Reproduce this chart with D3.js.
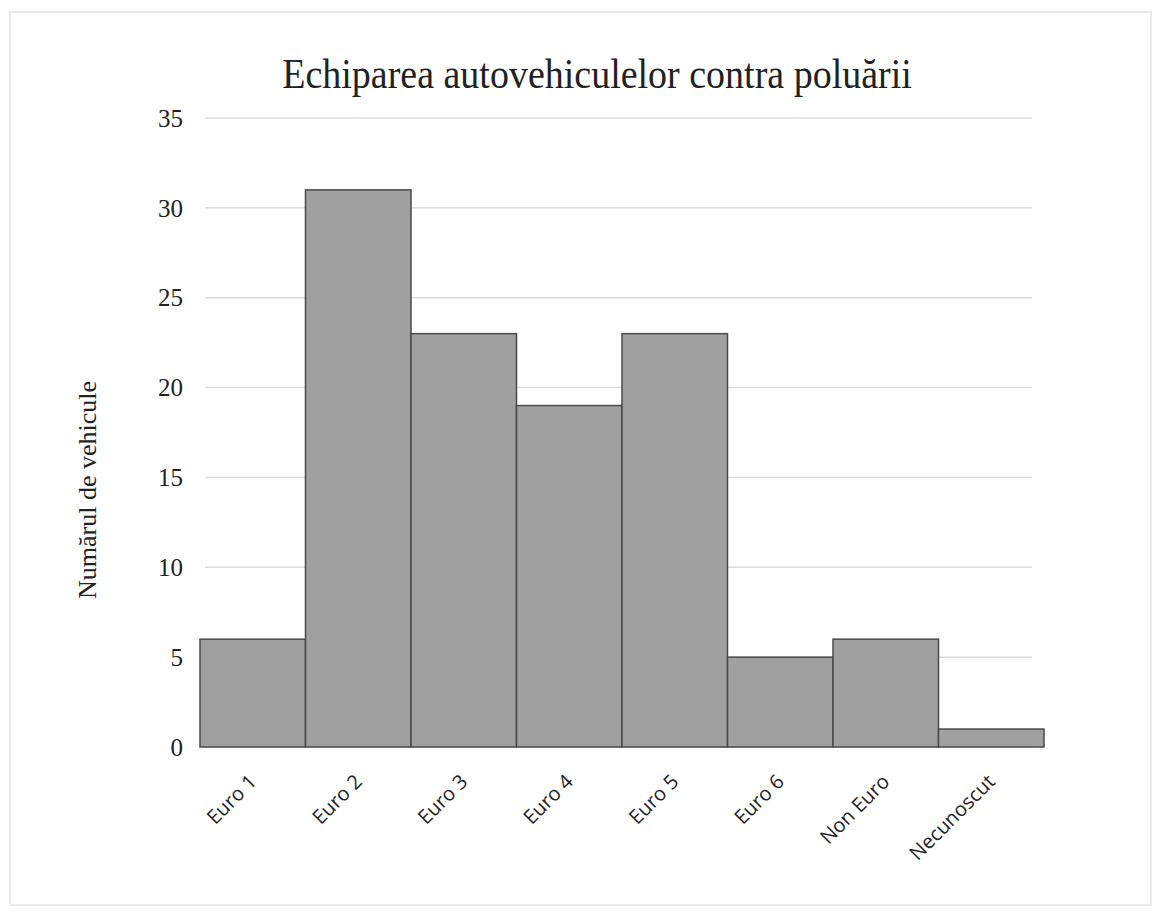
<!DOCTYPE html>
<html>
<head>
<meta charset="utf-8">
<script src="https://cdn.jsdelivr.net/npm/d3@7"></script>
<style>
  body { margin: 0; background: #fff; }
  svg text { fill: #222; }
</style>
</head>
<body>
<div id="chart"></div>
<script>
const categories = ['Euro 1', 'Euro 2', 'Euro 3', 'Euro 4', 'Euro 5', 'Euro 6', 'Non Euro', 'Necunoscut'];
const values = [6, 31, 23, 19, 23, 5, 6, 1];
const yTicks = [0, 5, 10, 15, 20, 25, 30, 35];

const width = 1163;
const height = 919;
const margin = { top: 118, right: 119, bottom: 172, left: 200 };

const svg = d3.select('#chart')
  .append('svg')
  .attr('width', width)
  .attr('height', height);

// faint scan frame
svg.append('rect')
  .attr('x', 10).attr('y', 12)
  .attr('width', width - 22).attr('height', height - 26)
  .attr('fill', 'none')
  .attr('stroke', '#ebebeb')
  .attr('stroke-width', 2);

const x = d3.scaleBand()
  .domain(categories)
  .range([margin.left, width - margin.right])
  .padding(0);

const y = d3.scaleLinear()
  .domain([0, 35])
  .range([height - margin.bottom, margin.top]);

const serif = '"Liberation Serif", "Times New Roman", serif';

// gridlines
svg.append('g')
  .selectAll('line')
  .data(yTicks)
  .join('line')
  .attr('x1', margin.left + 5)
  .attr('x2', width - margin.right - 12)
  .attr('y1', d => y(d))
  .attr('y2', d => y(d))
  .attr('stroke', '#dcdcdc')
  .attr('stroke-width', 1.5);

// y tick labels
svg.append('g')
  .selectAll('text')
  .data(yTicks)
  .join('text')
  .attr('x', margin.left - 17)
  .attr('y', d => y(d))
  .attr('dy', '0.35em')
  .attr('text-anchor', 'end')
  .attr('font-family', serif)
  .attr('font-size', 25)
  .text(d => d);

// bars
svg.append('g')
  .selectAll('rect')
  .data(values)
  .join('rect')
  .attr('x', (d, i) => x(categories[i]))
  .attr('y', d => y(d))
  .attr('width', x.bandwidth())
  .attr('height', d => y(0) - y(d))
  .attr('fill', '#a0a0a0')
  .attr('stroke', '#4a4a4a')
  .attr('stroke-width', 1.5);

// x labels
svg.append('g')
  .selectAll('text')
  .data(categories)
  .join('text')
  .attr('transform', d => `translate(${x(d) + x.bandwidth() / 2 + 5},${y(0) + 36}) rotate(-45)`)
  .attr('text-anchor', 'end')
  .attr('font-family', '"Open Sans", "Liberation Sans", sans-serif')
  .attr('font-size', 20)
  .text(d => d);

// title
svg.append('text')
  .attr('transform', 'translate(597,88) scale(1,1.12)')
  .attr('text-anchor', 'middle')
  .attr('font-family', serif)
  .attr('font-size', 38)
  .text('Echiparea autovehiculelor contra poluării');

// y axis title
svg.append('text')
  .attr('transform', `translate(96,490) rotate(-90)`)
  .attr('text-anchor', 'middle')
  .attr('font-family', serif)
  .attr('font-size', 26)
  .text('Numărul de vehicule');
</script>
</body>
</html>
